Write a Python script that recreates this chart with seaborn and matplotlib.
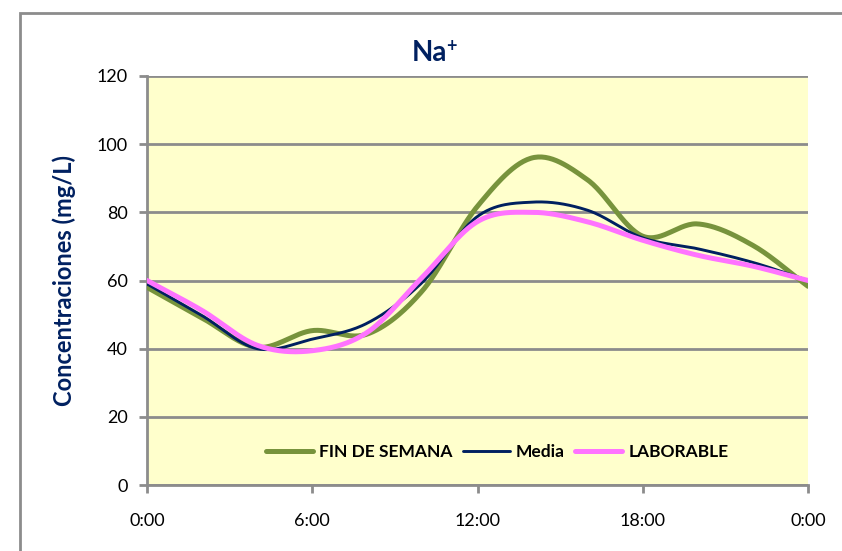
import numpy as np
import pandas as pd
import matplotlib
matplotlib.use("Agg")
import matplotlib.pyplot as plt
from matplotlib.patches import Rectangle
import seaborn as sns

# Hours of the day (samples every 2 h) and Na+ concentrations (mg/L)
hours = [0, 2, 4, 6, 8, 10, 12, 14, 16, 18, 20, 22, 24]
fin_de_semana = [58.0, 49.0, 40.4, 45.3, 44.3, 57.0, 81.8, 96.0, 89.5, 73.0, 76.6, 70.3, 58.3]
media = [59.0, 49.7, 40.0, 42.8, 47.5, 59.5, 78.8, 83.0, 80.6, 72.5, 69.3, 65.3, 60.0]
laborable = [60.0, 51.2, 41.0, 39.4, 44.8, 61.0, 77.3, 80.0, 77.2, 71.8, 67.4, 64.2, 60.0]

series_names = ["FIN DE SEMANA", "Media", "LABORABLE"]
series_values = [fin_de_semana, media, laborable]
series_colors = ["#77933C", "#002060", "#FF73FF"]
series_widths = [3.6, 2.1, 3.6]

x_ticks = [0, 6, 12, 18, 24]
x_tick_labels = ["0:00", "6:00", "12:00", "18:00", "0:00"]
y_ticks = [0, 20, 40, 60, 80, 100, 120]


def smooth_curve(x, y, n=30):
    """Catmull-Rom curve through the points (smoothed line rendering)."""
    x = np.asarray(x, float)
    y = np.asarray(y, float)
    px = np.concatenate([[2 * x[0] - x[1]], x, [2 * x[-1] - x[-2]]])
    py = np.concatenate([[2 * y[0] - y[1]], y, [2 * y[-1] - y[-2]]])
    xs, ys = [], []
    t = np.linspace(0, 1, n, endpoint=False)
    for i in range(1, len(px) - 2):
        for arr, out in ((px, xs), (py, ys)):
            p0, p1, p2, p3 = arr[i - 1], arr[i], arr[i + 1], arr[i + 2]
            out.append(0.5 * ((2 * p1) + (-p0 + p2) * t
                              + (2 * p0 - 5 * p1 + 4 * p2 - p3) * t ** 2
                              + (-p0 + 3 * p1 - 3 * p2 + p3) * t ** 3))
    xs.append([x[-1]])
    ys.append([y[-1]])
    return np.concatenate(xs), np.concatenate(ys)


sns.set_theme(style="white")
plt.rcParams["font.family"] = ["Lato", "DejaVu Sans"]

fig = plt.figure(figsize=(8.42, 5.51), dpi=100)
ax = fig.add_axes([147 / 842, 1 - 485 / 551, (808 - 147) / 842, (485 - 76) / 551])
ax.set_facecolor("#FFFFCC")

frames = []
for name, vals in zip(series_names, series_values):
    sx, sy = smooth_curve(hours, vals)
    frames.append(pd.DataFrame({"hora": sx, "conc": sy, "serie": name}))
df = pd.concat(frames, ignore_index=True)

for name, color, lw, z in zip(series_names, series_colors, series_widths, [3, 4, 5]):
    sub = df[df["serie"] == name]
    sns.lineplot(data=sub, x="hora", y="conc", ax=ax, color=color, linewidth=lw,
                 label=name, zorder=z, sort=False, estimator=None,
                 solid_capstyle="round")

grid_color = "#8C8C8C"
ax.set_xlim(0, 24)
ax.set_ylim(0, 120)
ax.set_xticks(x_ticks)
ax.set_xticklabels(x_tick_labels)
ax.set_yticks(y_ticks)
ax.yaxis.grid(True, color=grid_color, linewidth=2)
ax.xaxis.grid(False)
ax.set_axisbelow(True)
for side in ["top", "right"]:
    ax.spines[side].set_visible(False)
for side in ["left", "bottom"]:
    ax.spines[side].set_color(grid_color)
    ax.spines[side].set_linewidth(2)
ax.tick_params(axis="both", which="both", length=6, width=2, color=grid_color,
               labelsize=13, labelcolor="black", left=True, bottom=True)
ax.tick_params(axis="y", pad=8)
ax.tick_params(axis="x", pad=14)
ax.set_xlabel("")
ax.set_ylabel("")

leg = ax.legend(loc="center", bbox_to_anchor=(0.53, 0.081), ncol=3, frameon=False,
                handlelength=2.7, handletextpad=0.35, columnspacing=0.6,
                prop={"weight": "bold", "size": 12.5})
for t in leg.get_texts():
    t.set_color("black")

navy = "#002060"
fig.text(447 / 842, 1 - 61 / 551, "Na", ha="right", va="baseline",
         fontsize=20, fontweight="bold", color=navy)
fig.text(446 / 842, 1 - 46 / 551, "+", ha="left", va="center",
         fontsize=13, fontweight="bold", color=navy)
fig.text(64 / 842, 1 - 281 / 551, "Concentraciones (mg/L)", rotation=90,
         ha="center", va="center", fontsize=17, fontweight="bold", color=navy)

# outer chart frame
fig.patches.append(Rectangle((20 / 842, -0.05), 1.2, 1.05 - 13 / 551,
                             transform=fig.transFigure, fill=False,
                             edgecolor=grid_color, linewidth=2))

fig.savefig("out.png", dpi=100)
